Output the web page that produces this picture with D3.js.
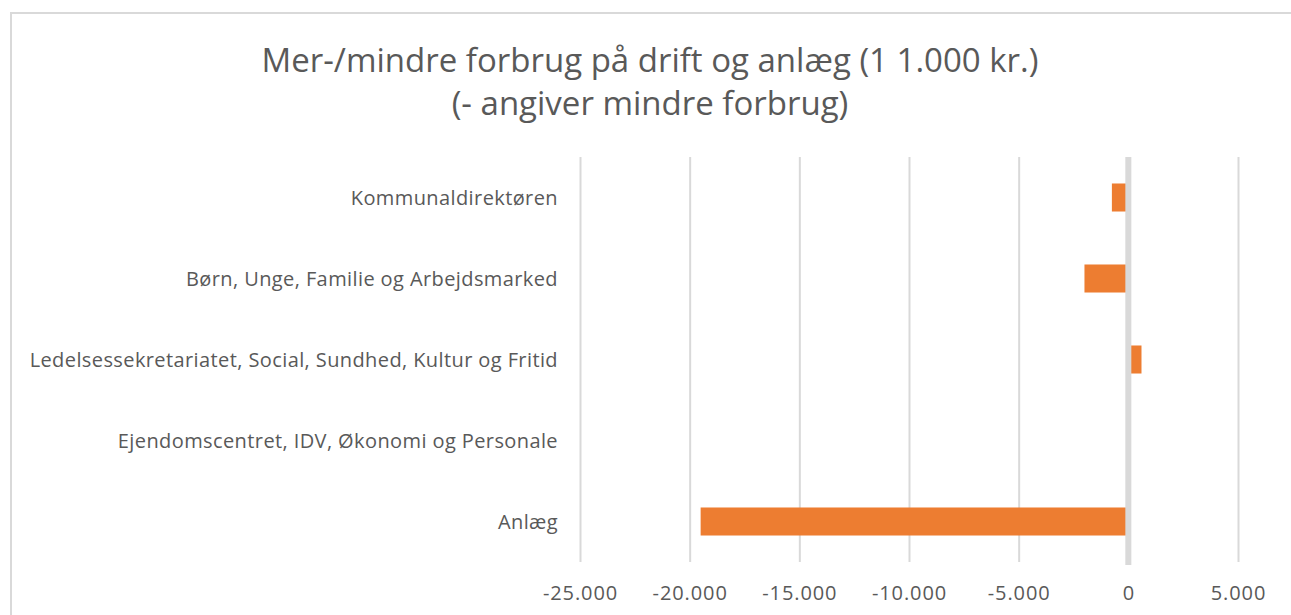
<!DOCTYPE html>
<html>
<head>
<meta charset="utf-8">
<script src="https://cdn.jsdelivr.net/npm/d3@7"></script>
<style>
  body { margin: 0; background: #fff; }
  svg text { font-family: "Open Sans", sans-serif; fill: #595959; }
</style>
</head>
<body>
<svg width="1291" height="615"></svg>
<script>
var categories = [
  "Kommunaldirektøren",
  "Børn, Unge, Familie og Arbejdsmarked",
  "Ledelsessekretariatet, Social, Sundhed, Kultur og Fritid",
  "Ejendomscentret, IDV, Økonomi og Personale",
  "Anlæg"
];
var values = [-750, -2000, 600, 0, -19500];
var tickValues = [-25000, -20000, -15000, -10000, -5000, 0, 5000];
var titleLines = ["Mer-/mindre forbrug på drift og anlæg (1 1.000 kr.)", "(- angiver mindre forbrug)"];

var data = categories.map(function(c, i) { return { name: c, value: values[i] }; });

var svg = d3.select("svg");
var margin = { top: 157, right: 53, bottom: 53, left: 580 };
var width = +svg.attr("width") - margin.left - margin.right;
var height = +svg.attr("height") - margin.top - margin.bottom;

var locale = d3.formatLocale({ decimal: ",", thousands: ".", grouping: [3], currency: ["", " kr."], minus: "-" });
var formatValue = locale.format(",d");

// chart area frame (only top and left edges show in the window)
svg.append("rect")
  .attr("x", 11).attr("y", 13)
  .attr("width", 1300).attr("height", 700)
  .attr("fill", "#fff")
  .attr("stroke", "#d9d9d9")
  .attr("stroke-width", 2);

var x = d3.scaleLinear()
  .domain([-25000, 5000])
  .range([0, width]);

var y = d3.scaleBand()
  .domain(categories)
  .range([0, height])
  .paddingInner(0.654)
  .paddingOuter(0.327);

var g = svg.append("g")
  .attr("transform", "translate(" + margin.left + "," + margin.top + ")");

// gridlines
g.append("g")
  .attr("class", "grid")
  .call(d3.axisBottom(x).tickValues(tickValues).tickSize(height).tickFormat(""))
  .call(function(s) {
    s.select(".domain").remove();
    s.selectAll("line").attr("stroke", "#d9d9d9").attr("stroke-width", 2);
  });

// bars
g.append("g")
  .selectAll("rect")
  .data(data)
  .enter().append("rect")
    .attr("x", function(d) { return x(Math.min(0, d.value)); })
    .attr("y", function(d) { return y(d.name); })
    .attr("width", function(d) { return Math.abs(x(d.value) - x(0)); })
    .attr("height", y.bandwidth())
    .attr("fill", "#ed7d31");

// category axis line at zero
g.append("line")
  .attr("x1", x(0)).attr("x2", x(0))
  .attr("y1", 0).attr("y2", height + 3)
  .attr("stroke", "#d9d9d9")
  .attr("stroke-width", 6);

// X-axis labels
g.append("g")
  .attr("class", "axis axis--x")
  .attr("transform", "translate(0," + (height + 32) + ")")
  .call(d3.axisBottom(x).tickValues(tickValues).tickSize(0).tickFormat(formatValue))
  .call(function(s) {
    s.select(".domain").remove();
    s.selectAll("text")
      .attr("dy", "0.32em")
      .attr("y", 0)
      .style("font-size", "20px")
      .style("letter-spacing", "0.9px")
      .style("font-family", "'Open Sans', sans-serif")
      .attr("fill", "#595959");
  });

// category labels
g.append("g")
  .selectAll("text")
  .data(categories)
  .enter().append("text")
    .attr("x", -22)
    .attr("y", function(d) { return y(d) + y.bandwidth() / 2; })
    .attr("dy", "0.35em")
    .attr("text-anchor", "end")
    .style("font-size", "20px")
    .style("letter-spacing", "0.4px")
    .text(function(d) { return d; });

// title
svg.append("g")
  .selectAll("text")
  .data(titleLines)
  .enter().append("text")
    .attr("x", 650)
    .attr("y", function(d, i) { return 72 + i * 43; })
    .attr("text-anchor", "middle")
    .style("font-size", "33px")
    .text(function(d) { return d; });
</script>
</body>
</html>
